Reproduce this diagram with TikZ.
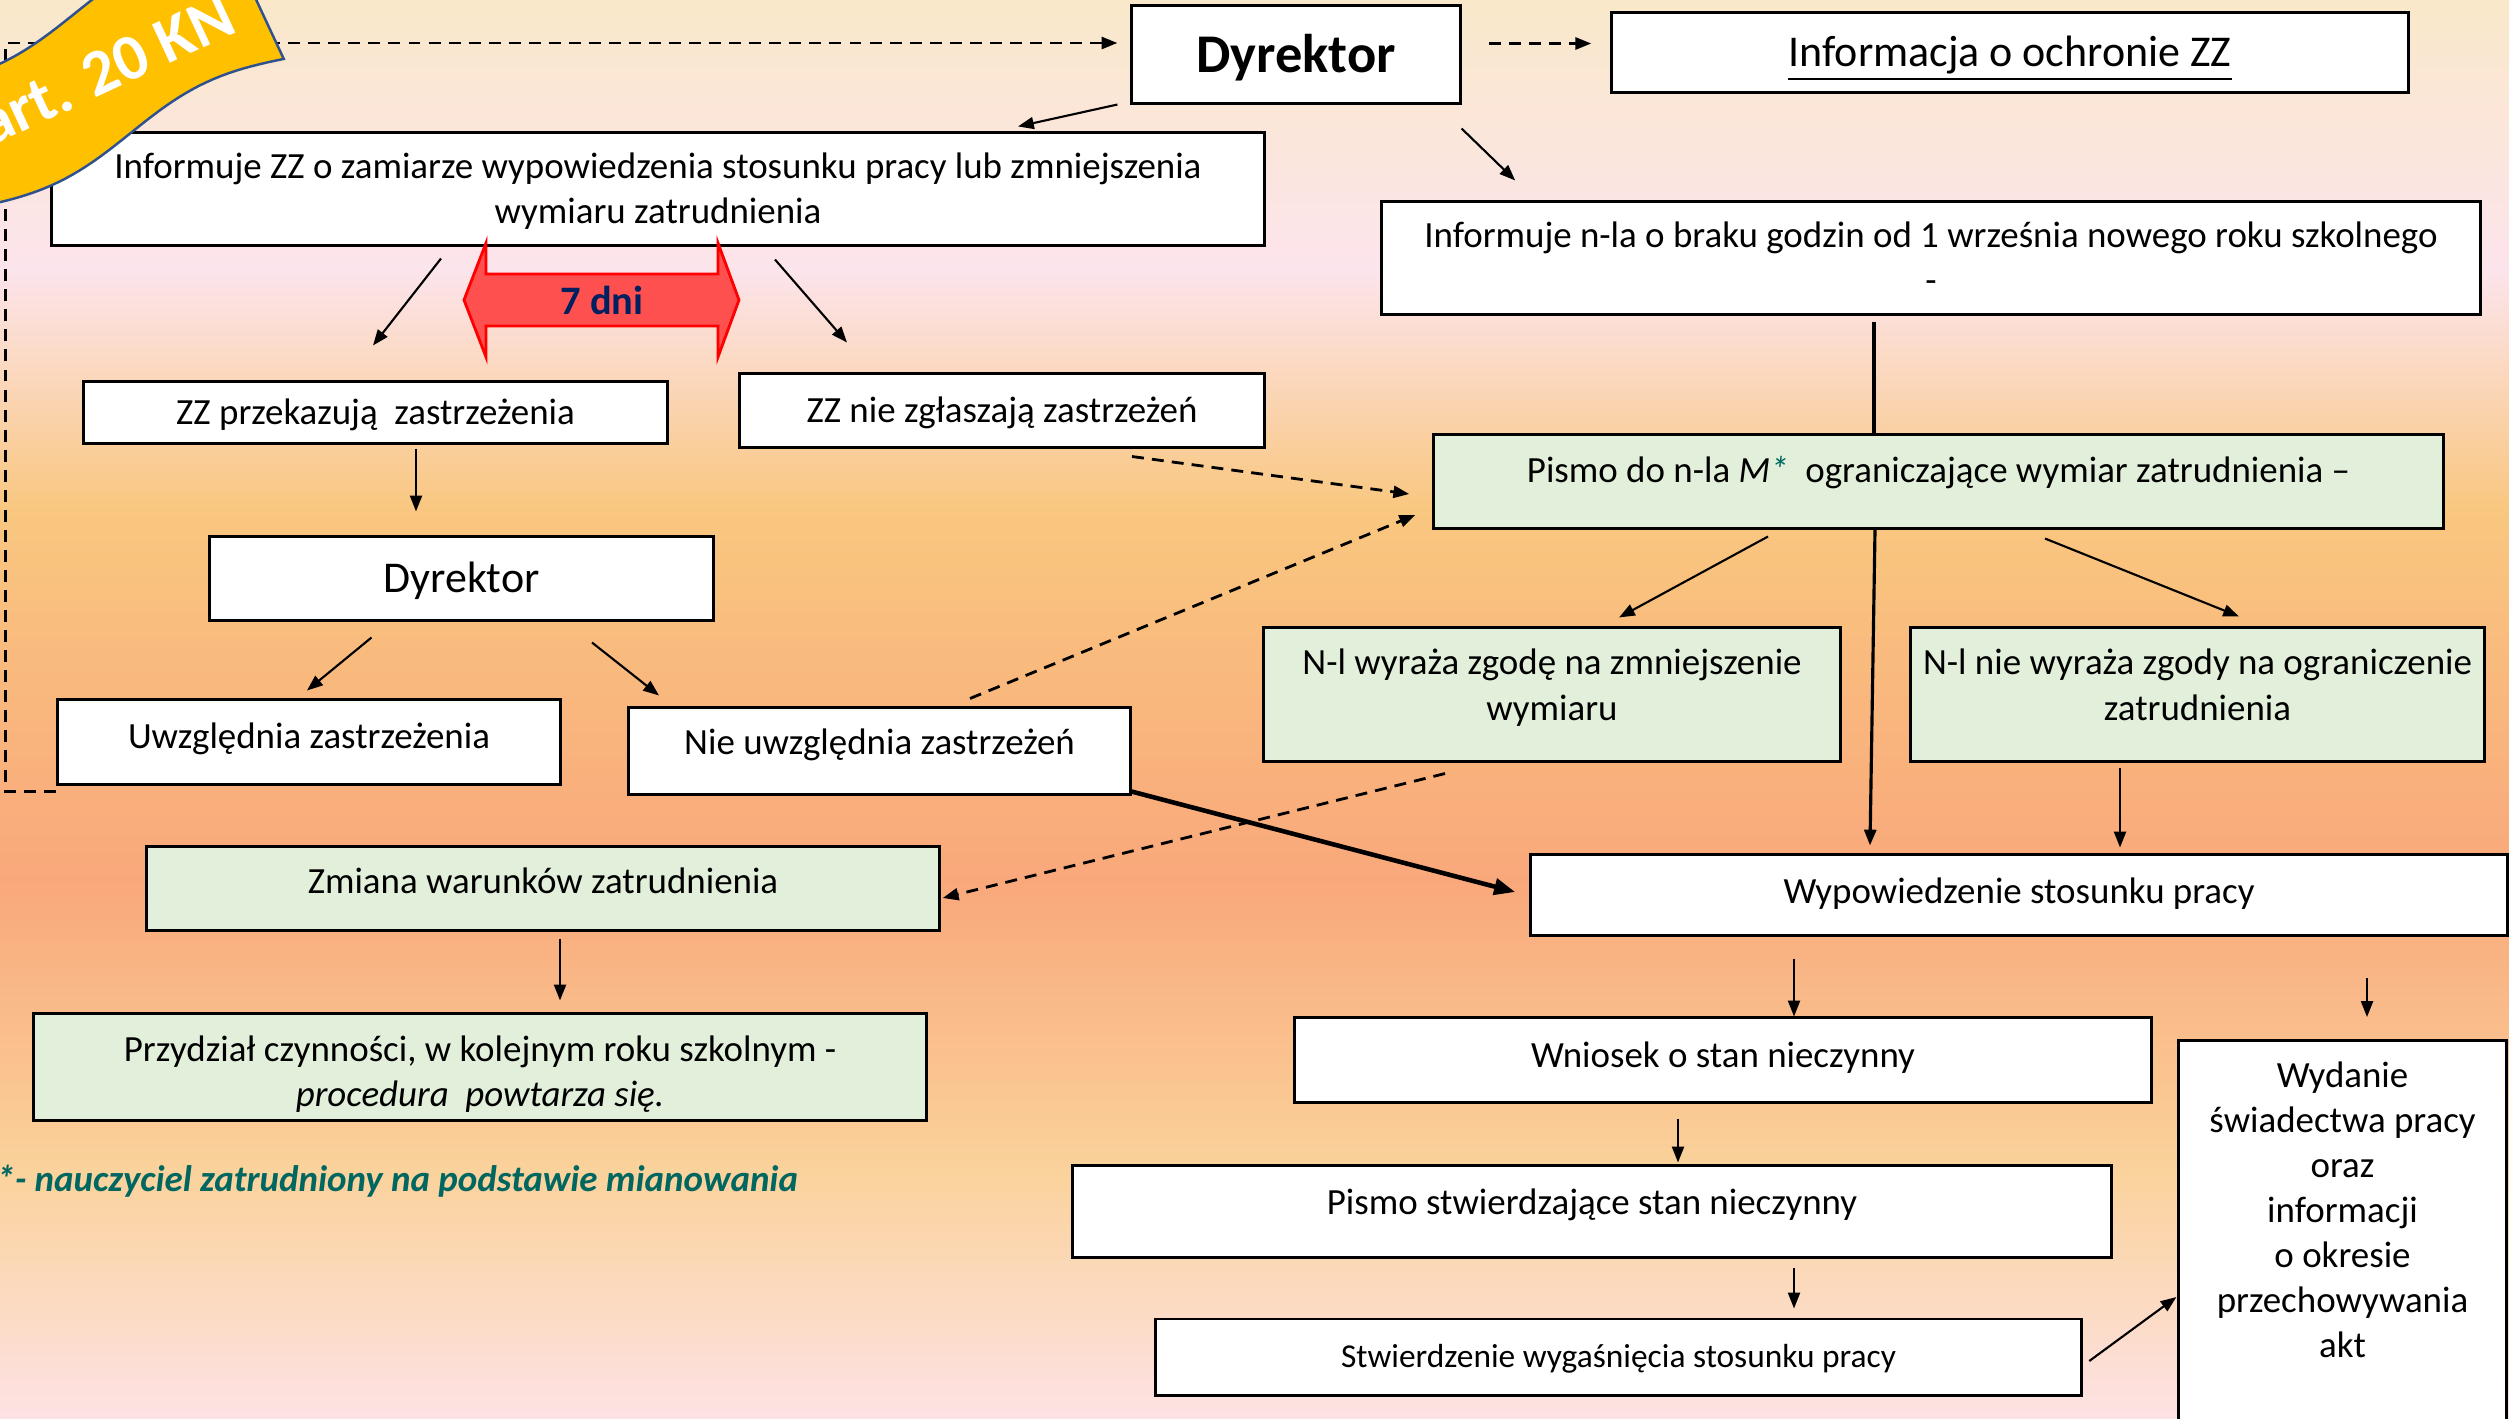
\documentclass[tikz,border=0pt]{standalone}
\usepackage{fontspec}
\setmainfont{Carlito}
\usepackage{tikz}
\usetikzlibrary{arrows.meta}

\definecolor{bgA}{HTML}{FAE8CA}
\definecolor{bgB}{HTML}{FCE4EC}
\definecolor{bgC}{HTML}{F9C77F}
\definecolor{bgD}{HTML}{F9A87B}
\definecolor{bgE}{HTML}{FAD29B}
\definecolor{bgF}{HTML}{FDE2E4}
\definecolor{boxgreen}{HTML}{E2EFDA}
\definecolor{dnired}{HTML}{FF5050}
\definecolor{dninavy}{HTML}{002060}
\definecolor{bannerfill}{HTML}{FFC000}
\definecolor{bannerline}{HTML}{2F528F}
\definecolor{noteteal}{HTML}{006660}

\begin{document}
\begin{tikzpicture}[x=0.01cm, y=-0.01cm,
	box/.style={draw=black, line width=0.85pt, fill=white, inner sep=0pt, align=flush center,
		font=\fontsize{10.5}{12.8}\selectfont, text height=0.3cm, text depth=0.06cm},
	gbox/.style={box, fill=boxgreen},
	arr/.style={-{Triangle[length=4.5pt,width=3.4pt]}, line width=0.6pt},
	darr/.style={arr, dash pattern=on 3.4pt off 2.3pt, line width=0.8pt},
	thickarr/.style={-{Triangle[length=6pt,width=4.6pt]}, line width=1.3pt}]

	\useasboundingbox (0,0) rectangle (2509,1418);

	% Background
	\shade[top color=bgA, bottom color=bgB] (0,0) rectangle (2509,271);
	\shade[top color=bgB, bottom color=bgC] (0,270) rectangle (2509,511);
	\shade[top color=bgC, bottom color=bgD] (0,510) rectangle (2509,881);
	\shade[top color=bgD, bottom color=bgE] (0,880) rectangle (2509,1171);
	\shade[top color=bgE, bottom color=bgF] (0,1170) rectangle (2509,1418);

	% Top row
	\node[box, font=\bfseries\fontsize{15.5}{18}\selectfont, text width=3.28cm, minimum height=0.97cm, text height=0.4cm, text depth=0.05cm] (dyr1) at (1296,54.5) {Dyrektor};
	\node[box, font=\fontsize{12.5}{15}\selectfont, text width=7.96cm, minimum height=0.79cm, text depth=0.02cm] (info) at (2010,52.5) {\underline{Informacja o ochronie ZZ}};
	\node[box, text width=12.12cm, minimum height=1.12cm, text depth=0.51cm] (inzz) at (658,189) {Informuje ZZ o zamiarze wypowiedzenia stosunku pracy lub zmniejszenia\\ wymiaru zatrudnienia};
	\node[box, text width=10.98cm, minimum height=1.12cm, text depth=0.51cm] (innl) at (1931,258) {Informuje n-la o braku godzin od 1 września nowego roku szkolnego\\ -};

	% Left branch
	\node[box, text width=5.83cm, minimum height=0.61cm] (zzp) at (375.5,412.5) {ZZ przekazują\ \ zastrzeżenia};
	\node[box, text width=5.24cm, minimum height=0.73cm] (zzn) at (1002,410.5) {ZZ nie zgłaszają zastrzeżeń};
	\node[box, font=\fontsize{12.5}{15}\selectfont, text width=5.03cm, minimum height=0.83cm, text depth=0.02cm] (dyr2) at (461.5,578.5) {Dyrektor};
	\node[box, text width=5.02cm, minimum height=0.84cm, text depth=0.18cm] (uwz) at (309,742) {Uwzględnia zastrzeżenia};
	\node[box, text width=5.01cm, minimum height=0.86cm, text depth=0.24cm] (nieuwz) at (879.5,751) {Nie uwzględnia zastrzeżeń};
	\node[gbox, text width=7.92cm, minimum height=0.83cm, text depth=0.2cm] (zmiana) at (543,888.5) {Zmiana warunków zatrudnienia};
	\node[gbox, text width=8.92cm, minimum height=1.06cm, text depth=0.41cm] (przydzial) at (480,1067) {Przydział czynności, w kolejnym roku szkolnym -\\ \textit{procedura\ \ powtarza się.}};

	% Right branch
	\node[gbox, text width=10.09cm, minimum height=0.93cm, text depth=0.28cm] (pismo) at (1938.5,481.5) {Pismo do n-la \textit{M}\textcolor{noteteal}{\textit{*}}\ \ ograniczające wymiar zatrudnienia –};
	\node[gbox, text width=5.76cm, minimum height=1.33cm, text depth=0.69cm] (zgoda) at (1552,694.5) {N-l wyraża zgodę na zmniejszenie\\ wymiaru};
	\node[gbox, text width=5.73cm, minimum height=1.33cm, text depth=0.69cm] (brak) at (2197.5,694.5) {N-l nie wyraża zgody na ograniczenie\\ zatrudnienia};
	\node[box, text width=9.76cm, minimum height=0.8cm, text depth=0.14cm] (wyp) at (2019,895) {Wypowiedzenie stosunku pracy};
	\node[box, text width=8.56cm, minimum height=0.84cm, text depth=0.16cm] (wniosek) at (1723,1060) {Wniosek o stan nieczynny};
	\node[box, text width=10.38cm, minimum height=0.91cm, text depth=0.24cm] (pismostw) at (1592,1211.5) {Pismo stwierdzające stan nieczynny};
	\node[box, font=\fontsize{9.5}{11.5}\selectfont, text width=9.25cm, minimum height=0.76cm, text depth=0.1cm] (stwierdz) at (1618.5,1357) {Stwierdzenie wygaśnięcia stosunku pracy};
	\node[box, text width=3.27cm, anchor=north, text height=0.47cm, text depth=4.6cm] (wydanie) at (2342.5,1039) {Wydanie\\ świadectwa pracy\\ oraz\\ informacji\\ o okresie\\ przechowywania\\ akt};

	% Footnote
	\node[anchor=west, inner sep=0pt, font=\bfseries\itshape\fontsize{10.5}{12.8}\selectfont, text=noteteal] (note) at (-4,1181) {*- nauczyciel zatrudniony na podstawie mianowania};

	% 7 dni
	\filldraw[fill=dnired, draw=red, line width=0.8pt] (464,300) -- (486,243) -- (486,274) -- (718,274) -- (718,243) -- (739,300) -- (718,357) -- (718,326) -- (486,326) -- (486,357) -- cycle;
	\node[font=\bfseries\fontsize{11.5}{14}\selectfont, text=dninavy] (dni) at (602,300) {7 dni};

	% Connectors
	\draw[darr] ([shift={(0,6)}]uwz.south west) -- ++(-51,0) |- ([shift={(-13,-11.5)}]dyr1.west);
	\draw[darr] ([shift={(27,-11)}]dyr1.east) -- ([shift={(-19,-9)}]info.west);
	\draw[arr] ([shift={(-13,0)}]dyr1.south west) -- ([shift={(360,-5)}]inzz.north);
	\draw[arr] ([shift={(0,24)}]dyr1.south east) -- ([shift={(135,-20)}]innl.north west);
	\draw[arr] ([shift={(-217,12)}]inzz.south) -- ([shift={(-2.5,-35)}]zzp.north);
	\draw[arr] ([shift={(117,13)}]inzz.south) -- ([shift={(-155,-30)}]zzn.north);
	\draw[arr] ([shift={(40.5,4)}]zzp.south) -- ([shift={(-45.5,-24)}]dyr2.north);
	\draw[arr] ([shift={(-90,16)}]dyr2.south) -- ([shift={(-2,-8)}]uwz.north);
	\draw[arr] ([shift={(130.5,21)}]dyr2.south) -- ([shift={(-220.5,-11)}]nieuwz.north);
	\draw[darr] ([shift={(130,8)}]zzn.south) -- ([shift={(-23,12.5)}]pismo.west);
	\draw[darr] ([shift={(90.5,-8)}]nieuwz.north) -- ([shift={(-17,33.5)}]pismo.west);
	\draw[thickarr] ([shift={(0,-4)}]nieuwz.south east) -- ([shift={(-14,-3)}]wyp.west);
	\draw[darr] ([shift={(-107,11)}]zgoda.south) -- ([shift={(2,9.5)}]zmiana.east);
	\draw[line width=0.9pt] ([shift={(-57,6)}]innl.south) -- ([shift={(-64.5,0)}]pismo.north);
	\draw[arr, line width=0.9pt] ([shift={(-63.5,0)}]pismo.south) -- ([shift={(-149,-8)}]wyp.north);
	\draw[arr] ([shift={(-170.5,7)}]pismo.south) -- ([shift={(67,-9)}]zgoda.north);
	\draw[arr] ([shift={(106.5,9)}]pismo.south) -- ([shift={(41.5,-10)}]brak.north);
	\draw[arr] ([shift={(-77.5,5)}]brak.south) -- ([shift={(101,-6)}]wyp.north);
	\draw[arr] ([shift={(17,7)}]zmiana.south) -- ([shift={(80,-12)}]przydzial.north);
	\draw[arr] ([shift={(-225,22.5)}]wyp.south) -- ([shift={(71,0)}]wniosek.north);
	\draw[arr] ([shift={(348,41.5)}]wyp.south) -- ([shift={(24.5,-22)}]wydanie.north);
	\draw[arr] ([shift={(-45,15)}]wniosek.south) -- ([shift={(86,-2)}]pismostw.north);
	\draw[arr] ([shift={(202,9)}]pismostw.south) -- ([shift={(175.5,-9)}]stwierdz.north);
	\draw[arr] ([shift={(6.5,4)}]stwierdz.east) -- ([shift={(-1,258)}]wydanie.north west);

	% Banner
	\begin{scope}[shift={(101,74)}, rotate=25]
		\filldraw[fill=bannerfill, draw=bannerline, line width=0.7pt] plot[domain=-300:172, samples=60] (\x,{-66+14*cos(\x+88)}) -- plot[domain=172:-300, samples=60] (\x,{66+14*cos(\x+88)}) -- cycle;
	\end{scope}
	\node[rotate=25, font=\bfseries\fontsize{18.5}{20}\selectfont, text=white] (art) at (106,70) {art. 20 KN};
\end{tikzpicture}
\end{document}
